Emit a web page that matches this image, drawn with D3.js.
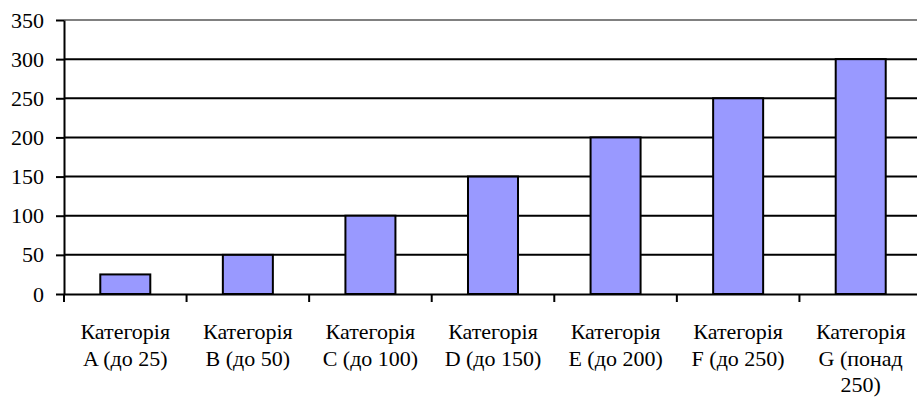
<!DOCTYPE html>
<html><head><meta charset="utf-8">
<script src="https://cdn.jsdelivr.net/npm/d3@7/dist/d3.min.js"></script>
<style>body{margin:0;background:#fff}svg{display:block}</style>
</head><body>
<script>
const categories = ["Категорія A (до 25)","Категорія B (до 50)","Категорія C (до 100)","Категорія D (до 150)","Категорія E (до 200)","Категорія F (до 250)","Категорія G (понад 250)"];
const categoryLines = [["Категорія","A (до 25)"],["Категорія","B (до 50)"],["Категорія","C (до 100)"],["Категорія","D (до 150)"],["Категорія","E (до 200)"],["Категорія","F (до 250)"],["Категорія","G (понад","250)"]];
const values = [25,50,100,150,200,250,300];
const yTicks = [0,50,100,150,200,250,300,350];

(function(){
const W=917,H=400;
const mL=64, mT=20, mB=294, mR=922;
const FONT='"Liberation Serif"';
const svg=d3.select("body").append("svg").attr("width",W).attr("height",H);
const x=d3.scaleBand().domain(categories).range([mL,mR]).padding(0);
const y=d3.scaleLinear().domain([0,350]).range([mB,mT]);

// gridlines
svg.append("g").selectAll("line").data(yTicks.filter(d=>d>0)).join("line")
  .attr("x1",mL).attr("x2",W).attr("y1",d=>y(d)).attr("y2",d=>y(d))
  .attr("stroke",d=>d===350?"#808080":"#000").attr("stroke-width",2);

// bars
const bw=x.bandwidth()*0.408;
svg.append("g").selectAll("rect").data(values).join("rect")
  .attr("x",(d,i)=>x(categories[i])+(x.bandwidth()-bw)/2)
  .attr("y",d=>y(d)).attr("width",bw).attr("height",d=>y(0)-y(d))
  .attr("fill","#9999FF").attr("stroke","#000").attr("stroke-width",2);

// y axis
const ya=svg.append("g").attr("transform",`translate(${mL},0)`)
  .call(d3.axisLeft(y).tickValues(yTicks).tickSize(8).tickPadding(12).tickSizeOuter(0));
ya.attr("font-family",null).attr("font-size",null);
ya.select(".domain").attr("stroke","#000").attr("stroke-width",2);
ya.selectAll(".tick line").attr("stroke","#000").attr("stroke-width",2);
ya.selectAll(".tick text").style("font-family",FONT).style("font-size","22px").attr("fill","#000");

// x axis
const xa=svg.append("g").attr("transform",`translate(0,${mB})`)
  .call(d3.axisBottom(x).tickValues([]).tickSizeOuter(0));
xa.select(".domain").attr("stroke","#000").attr("stroke-width",2);
const bounds=d3.range(categories.length).map(i=>x(categories[i]));
xa.selectAll(".bt").data(bounds).join("line").attr("class","bt")
  .attr("x1",d=>d).attr("x2",d=>d).attr("y1",0).attr("y2",8)
  .attr("stroke","#000").attr("stroke-width",2);

// labels
const lg=svg.append("g");
categoryLines.forEach((lines,i)=>{
  const cx=x(categories[i])+x.bandwidth()/2;
  const t=lg.append("text").attr("text-anchor","middle").style("font-family",FONT).style("font-size","22px").attr("fill","#000");
  lines.forEach((l,j)=>t.append("tspan").attr("x",cx).attr("y",339+j*26.5).text(l));
});
})();
</script>
</body></html>
